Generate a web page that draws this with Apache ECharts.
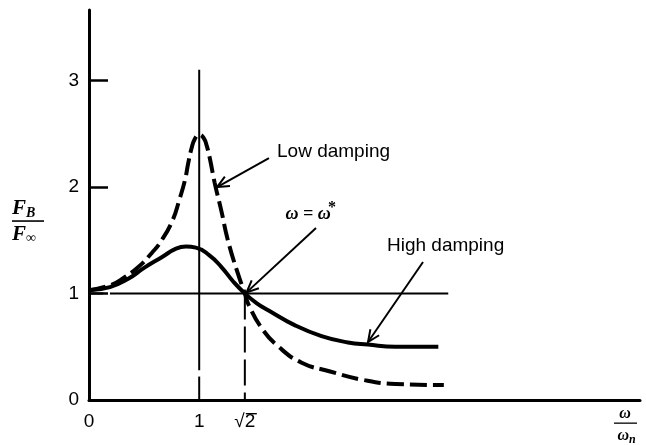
<!DOCTYPE html>
<html>
<head>
<meta charset="utf-8">
<script src="https://cdn.jsdelivr.net/npm/echarts@6/dist/echarts.min.js"></script>
<style>
  html, body { margin: 0; padding: 0; background: #fff; }
  #chart { width: 646px; height: 445px; }
</style>
</head>
<body>
<div id="chart"></div>
<script>
// Force ratio F_B / F_inf against frequency ratio w / w_n for two damping levels
const lowDampingX  = [0, 0.20, 0.32, 0.45, 0.57, 0.66, 0.76, 0.82, 0.87, 0.90, 0.93, 0.96, 1.0, 1.04, 1.07, 1.10, 1.14, 1.20, 1.26, 1.35, 1.414, 1.45, 1.57, 1.72, 1.93, 2.18, 2.48, 2.78, 3.22];
const lowDampingY  = [1.03, 1.08, 1.15, 1.25, 1.38, 1.50, 1.69, 1.88, 2.06, 2.22, 2.36, 2.45, 2.49, 2.46, 2.38, 2.25, 2.04, 1.78, 1.50, 1.19, 1.0, 0.89, 0.67, 0.50, 0.35, 0.27, 0.19, 0.15, 0.14];
const highDampingX = [0, 0.19, 0.36, 0.50, 0.66, 0.79, 0.88, 0.97, 1.09, 1.20, 1.31, 1.414, 1.52, 1.63, 1.87, 2.11, 2.35, 2.53, 2.78, 3.17];
const highDampingY = [1.03, 1.06, 1.14, 1.24, 1.34, 1.42, 1.44, 1.43, 1.36, 1.25, 1.11, 1.0, 0.91, 0.84, 0.70, 0.60, 0.54, 0.52, 0.50, 0.50];

const xTickValues = [0, 1, Math.SQRT2];
const xTickLabels = ['0', '1', '\u221A2'];
const yTickValues = [0, 1, 2, 3];
const yTickLabels = ['0', '1', '2', '3'];

// Guide lines: unit force ratio, resonance (w = w_n) and crossover (w = sqrt2 w_n)
const unitRatio = 1;
const unitLineEnd = 3.26;
const resonanceX = 1;
const resonanceTop = 3.1;
const crossoverX = Math.SQRT2;

const zip = (xs, ys) => xs.map((x, i) => [x, ys[i]]);

const chart = echarts.init(document.getElementById('chart'), null, { renderer: 'canvas' });

function segment(name, pts, width, dash) {
  return {
    name, type: 'line', data: pts, symbol: 'none', silent: true, z: 1,
    lineStyle: { color: '#000', width, type: dash || 'solid', cap: 'butt' }
  };
}

const option = {
  backgroundColor: '#fff',
  animation: false,
  grid: { left: 89, right: 6, top: 10, bottom: 45, containLabel: false, outerBoundsMode: 'none' },
  xAxis: {
    type: 'value', min: 0, max: 5,
    axisLine: { show: true, lineStyle: { color: '#000', width: 3 } },
    axisTick: { show: false },
    splitLine: { show: false },
    axisLabel: {
      customValues: xTickValues,
      formatter: v => xTickLabels[xTickValues.findIndex(t => Math.abs(t - v) < 1e-6)] || '',
      color: '#000', fontSize: 19, fontFamily: 'Liberation Sans', margin: 12
    }
  },
  yAxis: {
    type: 'value', min: 0, max: 3.66,
    axisLine: { show: true, lineStyle: { color: '#000', width: 3 } },
    axisTick: { show: true, inside: true, length: 19, customValues: [1, 2, 3], lineStyle: { color: '#000', width: 2.5 } },
    splitLine: { show: false },
    axisLabel: {
      customValues: yTickValues,
      formatter: v => yTickLabels[yTickValues.indexOf(Math.round(v))] || '',
      color: '#000', fontSize: 19, fontFamily: 'Liberation Sans', margin: 10
    }
  },
  series: [
    segment('unit-a', [[0, unitRatio], [0.13, unitRatio]], 2),
    segment('unit-b', [[0.19, unitRatio], [unitLineEnd, unitRatio]], 2),
    segment('resonance-a', [[resonanceX, resonanceTop], [resonanceX, 0.28]], 2),
    segment('resonance-b', [[resonanceX, 0.22], [resonanceX, 0]], 2),
    segment('crossover', [[crossoverX, unitRatio], [crossoverX, 0]], 2, [26, 7]),
    {
      name: 'Low damping', type: 'line', data: zip(lowDampingX, lowDampingY),
      smooth: 0.5, symbol: 'none', z: 3,
      lineStyle: { color: '#000', width: 4, type: [17, 6], cap: 'butt' }
    },
    {
      name: 'High damping', type: 'line', data: zip(highDampingX, highDampingY),
      smooth: 0.5, symbol: 'none', z: 3,
      lineStyle: { color: '#000', width: 4 }
    }
  ]
};

chart.setOption(option);

// Callouts placed in data coordinates
const callouts = [
  { text: 'Low damping', at: [1.706, 2.326], from: [1.633, 2.27], to: [1.162, 1.998] },
  { text: 'High damping', at: [2.704, 1.445], from: [3.031, 1.295], to: [2.532, 0.544] },
  { text: null, from: [2.06, 1.614], to: [1.43, 1.01] }
];

const toPx = p => chart.convertToPixel({ gridIndex: 0 }, p);
const elements = [];

callouts.forEach(c => {
  const s = toPx(c.from), t = toPx(c.to);
  const dx = t[0] - s[0], dy = t[1] - s[1];
  const len = Math.hypot(dx, dy);
  const ux = dx / len, uy = dy / len;
  const L = 13, th = 24 * Math.PI / 180;
  const arm = sign => {
    const c1 = Math.cos(th), s1 = Math.sin(sign * th);
    const rx = ux * c1 - uy * s1, ry = ux * s1 + uy * c1;
    return [t[0] - L * rx, t[1] - L * ry];
  };
  elements.push({
    type: 'polyline', shape: { points: [s, t] },
    style: { stroke: '#000', lineWidth: 2, fill: null }, z: 10
  });
  elements.push({
    type: 'polyline', shape: { points: [arm(1), t, arm(-1)] },
    style: { stroke: '#000', lineWidth: 2, fill: null }, z: 10
  });
  if (c.text) {
    const p = toPx(c.at);
    elements.push({
      type: 'text', x: p[0], y: p[1],
      style: { text: c.text, fill: '#000', font: '19px "Liberation Sans"', textAlign: 'left', textVerticalAlign: 'middle' },
      z: 10
    });
  }
});

// Vinculum over the 2 of the sqrt2 tick label
const sq = toPx([crossoverX, 0]);
elements.push({ type: 'rect', shape: { x: sq[0] + 1, y: sq[1] + 13, width: 11, height: 1.4 }, style: { fill: '#000' }, z: 10 });

// "w = w*" label
const wStar = toPx([2.024, 1.745]);
elements.push({
  type: 'text', x: wStar[0] - 4, y: wStar[1],
  style: { text: '\u03C9 = \u03C9', fill: '#000', font: 'italic bold 18px "Liberation Serif"', textAlign: 'center', textVerticalAlign: 'middle' },
  z: 10
});
elements.push({
  type: 'text', x: wStar[0] + 20, y: wStar[1] - 6,
  style: { text: '*', fill: '#000', font: 'bold 16px "Liberation Serif"', textAlign: 'center', textVerticalAlign: 'middle' },
  z: 10
});

// Axis titles written as fractions
function fraction(cx, cy, num, numSub, den, denSub, w, size) {
  const sub = Math.round(size * 0.66);
  const font = s => `italic bold ${s}px "Liberation Serif"`;
  return [
    { type: 'text', x: cx - 2, y: cy - 12, style: { text: num, fill: '#000', font: font(size), textAlign: 'right', textVerticalAlign: 'middle' }, z: 10 },
    { type: 'text', x: cx - 2, y: cy - 8, style: { text: numSub, fill: '#000', font: font(sub), textAlign: 'left', textVerticalAlign: 'middle' }, z: 10 },
    { type: 'rect', shape: { x: cx - w / 2, y: cy - 0.75, width: w, height: 1.6 }, style: { fill: '#000' }, z: 10 },
    { type: 'text', x: cx - 2, y: cy + 14, style: { text: den, fill: '#000', font: font(size), textAlign: 'right', textVerticalAlign: 'middle' }, z: 10 },
    { type: 'text', x: cx - 2, y: cy + 17, style: { text: denSub, fill: '#000', font: font(sub), textAlign: 'left', textVerticalAlign: 'middle' }, z: 10 }
  ];
}
elements.push(...fraction(28, 221, 'F', 'B', 'F', '\u221E', 32, 21));

// w / w_n
elements.push(
  { type: 'text', x: 625, y: 414, style: { text: '\u03C9', fill: '#000', font: 'italic bold 16px "Liberation Serif"', textAlign: 'center', textVerticalAlign: 'middle' }, z: 10 },
  { type: 'rect', shape: { x: 614, y: 422.5, width: 23, height: 1.3 }, style: { fill: '#000' }, z: 10 },
  { type: 'text', x: 629, y: 436, style: { text: '\u03C9', fill: '#000', font: 'italic bold 16px "Liberation Serif"', textAlign: 'right', textVerticalAlign: 'middle' }, z: 10 },
  { type: 'text', x: 629, y: 440, style: { text: 'n', fill: '#000', font: 'italic bold 12px "Liberation Serif"', textAlign: 'left', textVerticalAlign: 'middle' }, z: 10 }
);

chart.setOption({ graphic: { elements } });
</script>
</body>
</html>
